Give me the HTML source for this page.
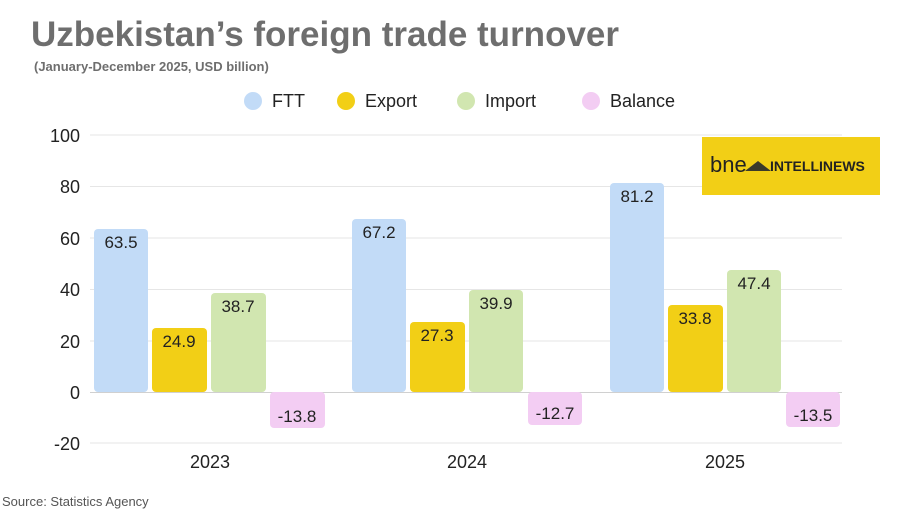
<!DOCTYPE html>
<html><head><meta charset="utf-8"><style>
body{margin:0;background:#fff;}
svg{display:block;font-family:"Liberation Sans",sans-serif;}
</style></head><body>
<svg width="900" height="510" viewBox="0 0 900 510">
<rect width="900" height="510" fill="#fff"/>
<text x="31" y="46" font-size="35" font-weight="bold" fill="#6e6e6e">Uzbekistan’s foreign trade turnover</text>
<text x="34" y="71" font-size="13" font-weight="bold" fill="#6e6e6e">(January-December 2025, USD billion)</text>
<g font-size="18" fill="#222">
<circle cx="253" cy="101" r="9" fill="#c2dbf7"/><text x="272" y="107">FTT</text>
<circle cx="346" cy="101" r="9" fill="#f2cf16"/><text x="365" y="107">Export</text>
<circle cx="466" cy="101" r="9" fill="#d1e6b0"/><text x="485" y="107">Import</text>
<circle cx="591" cy="101" r="9" fill="#f3cdf3"/><text x="610" y="107">Balance</text>
</g>
<g stroke="#e6e6e6" stroke-width="1">
<line x1="90" x2="842" y1="135" y2="135"/><line x1="90" x2="842" y1="186.5" y2="186.5"/>
<line x1="90" x2="842" y1="238" y2="238"/><line x1="90" x2="842" y1="289.5" y2="289.5"/>
<line x1="90" x2="842" y1="341" y2="341"/><line x1="90" x2="842" y1="443" y2="443"/>
</g>
<line x1="90" x2="842" y1="392.5" y2="392.5" stroke="#d0d0d0"/>
<g font-size="18" fill="#222" text-anchor="end">
<text x="80" y="142">100</text><text x="80" y="193">80</text><text x="80" y="245">60</text>
<text x="80" y="296">40</text><text x="80" y="348">20</text><text x="80" y="399">0</text><text x="80" y="450">-20</text>
</g>
<g font-size="18" fill="#222" text-anchor="middle">
<text x="210" y="468">2023</text><text x="467" y="468">2024</text><text x="725" y="468">2025</text>
</g>
<rect x="702" y="137" width="178" height="58" fill="#f2cf16"/>
<text x="710" y="172" font-size="22" fill="#222">bne</text>
<path d="M745 171 L758 161 L771 171 Z" fill="#3a3a2a"/>
<text x="770" y="171" font-size="14" font-weight="bold" fill="#222">INTELLINEWS</text>
<g font-size="17" fill="#222" text-anchor="middle">
<!-- 2023 -->
<rect x="94" y="229" width="54" height="163" rx="4" fill="#c2dbf7"/><text x="121" y="248">63.5</text>
<rect x="152" y="328" width="55" height="64" rx="4" fill="#f2cf16"/><text x="179" y="347">24.9</text>
<rect x="211" y="293" width="55" height="99" rx="4" fill="#d1e6b0"/><text x="238" y="312">38.7</text>
<rect x="270" y="392" width="55" height="36" rx="4" fill="#f3cdf3"/><text x="297" y="422">-13.8</text>
<!-- 2024 -->
<rect x="352" y="219" width="54" height="173" rx="4" fill="#c2dbf7"/><text x="379" y="238">67.2</text>
<rect x="410" y="322" width="55" height="70" rx="4" fill="#f2cf16"/><text x="437" y="341">27.3</text>
<rect x="469" y="290" width="54" height="102" rx="4" fill="#d1e6b0"/><text x="496" y="309">39.9</text>
<rect x="528" y="392" width="54" height="33" rx="4" fill="#f3cdf3"/><text x="555" y="419">-12.7</text>
<!-- 2025 -->
<rect x="610" y="183" width="54" height="209" rx="4" fill="#c2dbf7"/><text x="637" y="202">81.2</text>
<rect x="668" y="305" width="55" height="87" rx="4" fill="#f2cf16"/><text x="695" y="324">33.8</text>
<rect x="727" y="270" width="54" height="122" rx="4" fill="#d1e6b0"/><text x="754" y="289">47.4</text>
<rect x="786" y="392" width="54" height="35" rx="4" fill="#f3cdf3"/><text x="813" y="421">-13.5</text>
</g>
<text x="2" y="506" font-size="13" fill="#555">Source: Statistics Agency</text>
</svg>
</body></html>
